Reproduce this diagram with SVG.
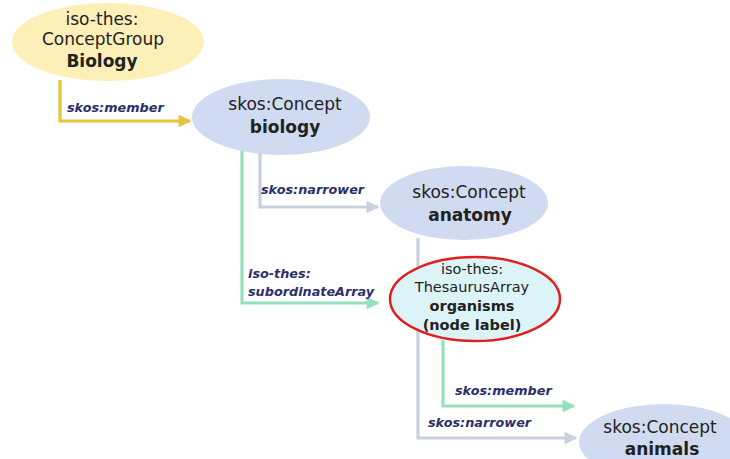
<svg xmlns="http://www.w3.org/2000/svg" width="730" height="459" viewBox="0 0 730 459">
<defs>
<style>
.n{font-family:"DejaVu Sans",Verdana,sans-serif;font-size:17px;fill:#222;text-anchor:middle}
.b{font-weight:bold}
.s{font-size:14.5px}
.l{font-family:"DejaVu Sans",Verdana,sans-serif;font-size:12.8px;font-weight:bold;font-style:italic;fill:#2c2f6b}
.e{fill:none;stroke-width:3.2}
</style>
<marker id="ay" viewBox="0 0 10 10" refX="9" refY="5" markerWidth="4" markerHeight="4" orient="auto" markerUnits="strokeWidth"><path d="M0,0 L10,5 L0,10 z" fill="#e8c43c"/></marker>
<marker id="ag" viewBox="0 0 10 10" refX="9" refY="5" markerWidth="4" markerHeight="4" orient="auto" markerUnits="strokeWidth"><path d="M0,0 L10,5 L0,10 z" fill="#c9d1df"/></marker>
<marker id="at" viewBox="0 0 10 10" refX="9" refY="5" markerWidth="4" markerHeight="4" orient="auto" markerUnits="strokeWidth"><path d="M0,0 L10,5 L0,10 z" fill="#93e0bd"/></marker>
</defs>
<rect width="730" height="459" fill="#fff"/>
<g id="connectors">
<path class="e" d="M60,80 V121 H190" stroke="#e8c43c" marker-end="url(#ay)"/>
<path class="e" d="M260,150 V207 H378" stroke="#c9d1df" marker-end="url(#ag)"/>
<path class="e" d="M242,150 V303 H378" stroke="#93e0bd" marker-end="url(#at)"/>
<path class="e" d="M418,238 V438 H576" stroke="#c9d1df" marker-end="url(#ag)"/>
<path class="e" d="M443,340 V406 H574" stroke="#93e0bd" marker-end="url(#at)"/>
<text class="l" x="67" y="112">skos:member</text>
<text class="l" x="261" y="194">skos:narrower</text>
<text class="l" x="248" y="278">iso-thes:</text>
<text class="l" x="248" y="296">subordinateArray</text>
<text class="l" x="455" y="395">skos:member</text>
<text class="l" x="428" y="427">skos:narrower</text>
</g>
<g id="conceptgroup">
<ellipse cx="108" cy="42" rx="96" ry="39" fill="#fcf0b8"/>
<text class="n" x="102" y="25">iso-thes:</text>
<text class="n" x="103" y="45">ConceptGroup</text>
<text class="n b" x="102" y="67">Biology</text>
</g>
<g id="biology">
<ellipse cx="281" cy="117" rx="89" ry="38" fill="#d0dbf1"/>
<text class="n" x="285" y="110">skos:Concept</text>
<text class="n b" x="285" y="133">biology</text>
</g>
<g id="anatomy">
<ellipse cx="464" cy="203" rx="84" ry="37" fill="#d0dbf1"/>
<text class="n" x="469" y="198">skos:Concept</text>
<text class="n b" x="470" y="221">anatomy</text>
</g>
<g id="organisms">
<ellipse cx="475" cy="299" rx="85" ry="42" fill="#dcf4f8" stroke="#e02020" stroke-width="2.5"/>
<text class="n s" x="472" y="274">iso-thes:</text>
<text class="n s" x="472" y="292">ThesaurusArray</text>
<text class="n s b" x="472" y="311">organisms</text>
<text class="n s b" x="472" y="330">(node label)</text>
</g>
<g id="animals">
<ellipse cx="664" cy="442" rx="85" ry="38" fill="#d0dbf1"/>
<text class="n" x="660" y="433">skos:Concept</text>
<text class="n b" x="662" y="455">animals</text>
</g>
</svg>
